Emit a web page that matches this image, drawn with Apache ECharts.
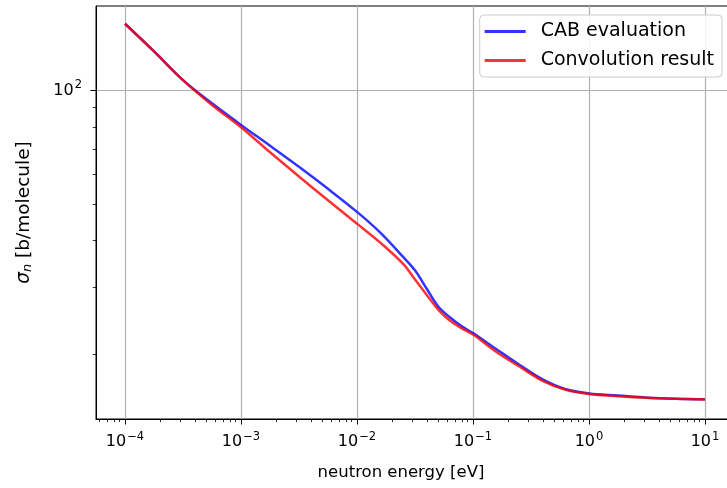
<!DOCTYPE html>
<html>
<head>
<meta charset="utf-8">
<script src="https://cdn.jsdelivr.net/npm/echarts@6/dist/echarts.min.js"></script>
<style>
  html, body { margin: 0; padding: 0; background: #fff; }
  #chart { width: 727px; height: 488px; }
</style>
</head>
<body>
<div id="chart"></div>
<script>
// Neutron energy grid [eV]
const energy = [1e-4, 1.78e-4, 3.16e-4, 5.62e-4, 1e-3, 1.78e-3, 3.16e-3, 5.62e-3,
  1e-2, 1.58e-2, 2.51e-2, 3.16e-2, 3.98e-2, 5.01e-2, 6.31e-2, 7.94e-2,
  0.1, 0.158, 0.251, 0.398, 0.631, 1, 1.78, 3.16, 5.62, 10];
// Cross sections [b/molecule]
const cabEvaluation = [150.3, 126.9, 106.5, 92.4, 81.0, 71.3, 62.7, 54.8,
  47.6, 42.0, 36.1, 33.3, 29.8, 26.7, 25.0, 23.7,
  22.7, 20.6, 18.7, 17.1, 16.1, 15.7, 15.5, 15.3, 15.2, 15.15];
const convolutionResult = [150.3, 126.9, 106.5, 91.5, 79.8, 68.5, 59.1, 51.1,
  44.3, 39.5, 34.6, 31.5, 28.7, 26.2, 24.5, 23.4,
  22.5, 20.25, 18.5, 16.96, 16.05, 15.64, 15.43, 15.28, 15.20, 15.13];
const seriesNames = ['CAB evaluation', 'Convolution result'];

// Axis decades and minor ticks (exponents / values)
const xMajorExp = [-4, -3, -2, -1, 0, 1];
const xMinorVals = [];
for (let n = -5; n <= 1; n++) for (let k = 2; k <= 9; k++) xMinorVals.push(k * Math.pow(10, n));
const yMajorExp = [2];
const yMinorVals = [20, 30, 40, 50, 60, 70, 80, 90];
const xRangeExp = [-4.25, 1.25];
const yRangeExp = [1.128, 2.224];

const lg = Math.log10;
const inRange = (v, r) => v >= r[0] && v <= r[1];
const toPts = (ys) => energy.map((e, i) => [lg(e), lg(ys[i])]);

const FONT = 'DejaVu Sans';
const expLabel = (v) => {
  const e = Math.round(v);
  const s = e < 0 ? '\u2212' + Math.abs(e) : String(e);
  return '{b|10}{s|' + s + '}';
};
const richTick = {
  b: { fontFamily: FONT, fontSize: 16, color: '#000' },
  s: { fontFamily: FONT, fontSize: 11.5, color: '#000', padding: [0, 0, 10, 1] }
};

const chart = echarts.init(document.getElementById('chart'), null, { renderer: 'canvas' });
chart.setOption({
  animation: false,
  backgroundColor: '#fff',
  grid: {
    left: 96, top: 6, width: 638, height: 413,
    outerBoundsMode: 'none',
    containLabel: false,
    show: true, borderColor: '#000', borderWidth: 1, backgroundColor: 'transparent'
  },
  legend: {
    orient: 'vertical',
    right: 5, top: 15,
    padding: [7, 8, 7, 5],
    itemGap: 10,
    itemWidth: 41, itemHeight: 3,
    icon: 'rect',
    backgroundColor: 'rgba(255,255,255,0.85)',
    borderColor: '#cccccc', borderWidth: 1, borderRadius: 4,
    textStyle: { fontFamily: FONT, fontSize: 19, color: '#000', padding: [0, 0, 0, 10], lineHeight: 19 },
    data: seriesNames
  },
  xAxis: [
    {
      type: 'value', gridIndex: 0, position: 'bottom',
      min: xRangeExp[0], max: xRangeExp[1],
      name: 'neutron energy [eV]', nameLocation: 'middle', nameGap: 45,
      nameTextStyle: { fontFamily: FONT, fontSize: 16.5, color: '#000', padding: [0, 28, 0, 0] },
      axisLine: { show: true, onZero: false, lineStyle: { color: '#000', width: 1 } },
      axisTick: { show: true, inside: false, length: 5.5, customValues: xMajorExp, lineStyle: { color: '#000', width: 1 } },
      axisLabel: { show: true, margin: 12, customValues: xMajorExp, formatter: expLabel, rich: richTick },
      splitLine: { show: true, lineStyle: { color: '#b0b0b0', width: 1.2 } }
    },
    {
      type: 'value', gridIndex: 0, position: 'bottom',
      min: xRangeExp[0], max: xRangeExp[1],
      axisLine: { show: false, onZero: false },
      axisTick: { show: true, length: 3.2, customValues: xMinorVals.map(lg).filter(v => inRange(v, xRangeExp)), lineStyle: { color: '#000', width: 0.8 } },
      axisLabel: { show: false },
      splitLine: { show: false }
    }
  ],
  yAxis: [
    {
      type: 'value', gridIndex: 0, position: 'left',
      min: yRangeExp[0], max: yRangeExp[1],
      name: '{i|σ}{sub|n}{t| [b/molecule]}', nameLocation: 'middle', nameGap: 62, nameRotate: 90,
      nameTextStyle: {
        fontFamily: FONT, fontSize: 18.5, color: '#000',
        rich: {
          i: { fontFamily: FONT, fontSize: 18.5, fontStyle: 'italic', color: '#000' },
          sub: { fontFamily: FONT, fontSize: 13, fontStyle: 'italic', color: '#000', padding: [7, 0, 0, 0] },
          t: { fontFamily: FONT, fontSize: 18.5, color: '#000' }
        }
      },
      axisLine: { show: true, onZero: false, lineStyle: { color: '#000', width: 1 } },
      axisTick: { show: true, length: 5.5, customValues: yMajorExp, lineStyle: { color: '#000', width: 1 } },
      axisLabel: { show: true, margin: 14, customValues: yMajorExp, formatter: expLabel, rich: richTick },
      splitLine: { show: true, lineStyle: { color: '#b0b0b0', width: 1.2 } }
    },
    {
      type: 'value', gridIndex: 0, position: 'left',
      min: yRangeExp[0], max: yRangeExp[1],
      axisLine: { show: false, onZero: false },
      axisTick: { show: true, length: 3.2, customValues: yMinorVals.map(lg).filter(v => inRange(v, yRangeExp)), lineStyle: { color: '#000', width: 0.8 } },
      axisLabel: { show: false },
      splitLine: { show: false }
    }
  ],
  series: [
    {
      name: seriesNames[0], type: 'line', xAxisIndex: 0, yAxisIndex: 0,
      data: toPts(cabEvaluation), showSymbol: false, symbol: 'none', smooth: 0.35,
      color: 'rgba(0,0,255,0.8)',
      lineStyle: { color: 'rgba(0,0,255,0.8)', width: 2.5 },
      z: 3
    },
    {
      name: seriesNames[1], type: 'line', xAxisIndex: 0, yAxisIndex: 0,
      data: toPts(convolutionResult), showSymbol: false, symbol: 'none', smooth: 0.35,
      color: 'rgba(255,0,0,0.8)',
      lineStyle: { color: 'rgba(255,0,0,0.8)', width: 2.5 },
      z: 4
    }
  ]
});
</script>
</body>
</html>
